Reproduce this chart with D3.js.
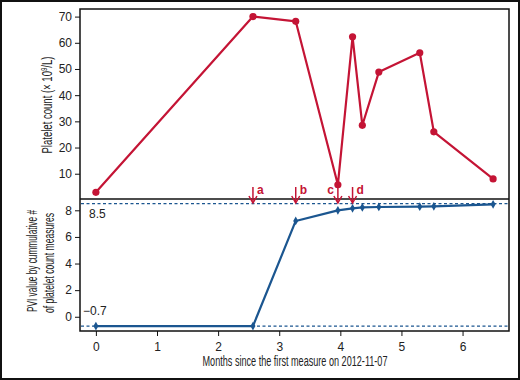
<!DOCTYPE html>
<html>
<head>
<meta charset="utf-8">
<script src="https://cdn.jsdelivr.net/npm/d3@7"></script>
<style>
  body { margin: 0; background: #fff; }
  .axis text { font-family: "Liberation Sans", Arial, sans-serif; font-size: 12px; fill: #222; }
  .axis path, .axis line { stroke: #111; }
  .lbl { font-family: "Liberation Sans", Arial, sans-serif; font-size: 14px; fill: #222; }
</style>
</head>
<body>
<svg id="chart" width="520" height="380"></svg>
<script>
// data
const months = [0, 2.57, 3.27, 3.96, 4.20, 4.36, 4.63, 5.30, 5.53, 6.50]
const platelet = [2.9, 70, 68.2, 5.8, 62.3, 28.5, 48.8, 56.2, 26.0, 8.0]
const pvi = [-0.7, -0.7, 7.2, 8.0, 8.15, 8.22, 8.25, 8.27, 8.3, 8.45]
const xTicks = [0, 1, 2, 3, 4, 5, 6]
const plateletTicks = [10, 20, 30, 40, 50, 60, 70]
const pviTicks = [0, 2, 4, 6, 8]
const refLines = [8.5, -0.7]
const events = [
  { label: 'a', month: 2.57, side: 'right' },
  { label: 'b', month: 3.27, side: 'right' },
  { label: 'c', month: 3.96, side: 'left' },
  { label: 'd', month: 4.20, side: 'right' }
]

const red = '#c41435'
const blue = '#1b5690'

const svg = d3.select('#chart')
const pLeft = 80, pRight = 509, pTop = 9, pMid = 199, pBottom = 331

// outer border
svg.append('rect')
  .attr('x', 1).attr('y', 1).attr('width', 518).attr('height', 378)
  .attr('fill', 'none').attr('stroke', '#111').attr('stroke-width', 2)

const x = d3.scaleLinear().domain([-0.26, 6.76]).range([pLeft, pRight])
const yTop = d3.scaleLinear().domain([0.35, 72.9]).range([pMid, pTop])
const yBot = d3.scaleLinear().domain([-1.07, 8.85]).range([pBottom, pMid])

// axes
svg.append('g').attr('class', 'axis')
  .attr('transform', `translate(0,${pBottom})`)
  .call(d3.axisBottom(x).tickValues(xTicks).tickFormat(d3.format('d')).tickSize(5).tickPadding(6))
  .call(g => g.select('.domain').remove())

svg.append('g').attr('class', 'axis')
  .attr('transform', `translate(${pLeft},0)`)
  .call(d3.axisLeft(yTop).tickValues(plateletTicks).tickSize(5).tickPadding(3))
  .call(g => g.select('.domain').remove())

svg.append('g').attr('class', 'axis')
  .attr('transform', `translate(${pLeft},0)`)
  .call(d3.axisLeft(yBot).tickValues(pviTicks).tickSize(5).tickPadding(3))
  .call(g => g.select('.domain').remove())

// frame
svg.append('rect')
  .attr('x', pLeft).attr('y', pTop).attr('width', pRight - pLeft).attr('height', pBottom - pTop)
  .attr('fill', 'none').attr('stroke', '#111').attr('stroke-width', 1.5)
svg.append('line')
  .attr('x1', pLeft).attr('x2', pRight).attr('y1', pMid).attr('y2', pMid)
  .attr('stroke', '#111').attr('stroke-width', 1.5)

// reference lines
svg.selectAll('.ref').data(refLines).enter().append('line')
  .attr('x1', pLeft + 1).attr('x2', pRight - 1)
  .attr('y1', d => yBot(d)).attr('y2', d => yBot(d))
  .attr('stroke', blue).attr('stroke-width', 1.4).attr('stroke-dasharray', '3,2.5')

svg.append('text').attr('class', 'lbl').attr('x', 89).attr('y', yBot(8.5) + 14)
  .style('font-size', '12px').text('8.5')
svg.append('text').attr('class', 'lbl').attr('x', 83).attr('y', yBot(-0.7) - 11)
  .style('font-size', '12px').text('\u22120.7')

const topData = months.map((m, i) => [m, platelet[i]])
const botData = months.map((m, i) => [m, pvi[i]])

// platelet line
svg.append('path').datum(topData)
  .attr('fill', 'none').attr('stroke', red).attr('stroke-width', 2.2)
  .attr('stroke-linejoin', 'round')
  .attr('d', d3.line().x(d => x(d[0])).y(d => yTop(d[1])))
svg.selectAll('.pt').data(topData).enter().append('circle')
  .attr('cx', d => x(d[0])).attr('cy', d => yTop(d[1])).attr('r', 3.6)
  .attr('fill', red)

// pvi line
svg.append('path').datum(botData)
  .attr('fill', 'none').attr('stroke', blue).attr('stroke-width', 2.2)
  .attr('stroke-linejoin', 'round')
  .attr('d', d3.line().x(d => x(d[0])).y(d => yBot(d[1])))
svg.selectAll('.pv').data(botData).enter().append('path')
  .attr('transform', d => `translate(${x(d[0])},${yBot(d[1])})`)
  .attr('d', d3.symbol(d3.symbolDiamond, 22))
  .attr('fill', blue)

// event arrows
const ev = svg.selectAll('.ev').data(events).enter().append('g')
  .attr('transform', d => `translate(${x(d.month)},0)`)
ev.append('line').attr('x1', 0).attr('x2', 0).attr('y1', 187).attr('y2', 202)
  .attr('stroke', red).attr('stroke-width', 1.5)
ev.append('path').attr('d', 'M-4,196 L0,203 L4,196')
  .attr('fill', 'none').attr('stroke', red).attr('stroke-width', 1.5)
ev.append('text')
  .attr('x', d => d.side === 'right' ? 4 : -4)
  .attr('y', 194)
  .attr('text-anchor', d => d.side === 'right' ? 'start' : 'end')
  .attr('fill', red)
  .style('font-family', 'Liberation Sans, Arial, sans-serif')
  .style('font-size', '12px').style('font-weight', 'bold')
  .text(d => d.label)

// axis titles (condensed face in the reference, so squeeze with textLength)
const ptTitle = svg.append('text').attr('class', 'lbl')
  .attr('transform', `translate(52,${(pTop + pMid) / 2 + 1}) rotate(-90)`)
  .attr('text-anchor', 'middle')
  .attr('textLength', 97).attr('lengthAdjust', 'spacingAndGlyphs')
ptTitle.append('tspan').text('Platelet count (\u00d7 10')
ptTitle.append('tspan').attr('dy', -5).style('font-size', '9px').text('9')
ptTitle.append('tspan').attr('dy', 5).text('/L)')

svg.append('text').attr('class', 'lbl')
  .attr('transform', `translate(37,${(pMid + pBottom) / 2 - 4}) rotate(-90)`)
  .attr('text-anchor', 'middle')
  .attr('textLength', 102).attr('lengthAdjust', 'spacingAndGlyphs')
  .text('PVI value by cummulative #')
svg.append('text').attr('class', 'lbl')
  .attr('transform', `translate(54,${(pMid + pBottom) / 2 - 2}) rotate(-90)`)
  .attr('text-anchor', 'middle')
  .attr('textLength', 100).attr('lengthAdjust', 'spacingAndGlyphs')
  .text('of platelet count measures')

svg.append('text').attr('class', 'lbl')
  .attr('x', 295).attr('y', 366)
  .attr('text-anchor', 'middle')
  .attr('textLength', 185).attr('lengthAdjust', 'spacingAndGlyphs')
  .text('Months since the first measure on 2012-11-07')
</script>
</body>
</html>
